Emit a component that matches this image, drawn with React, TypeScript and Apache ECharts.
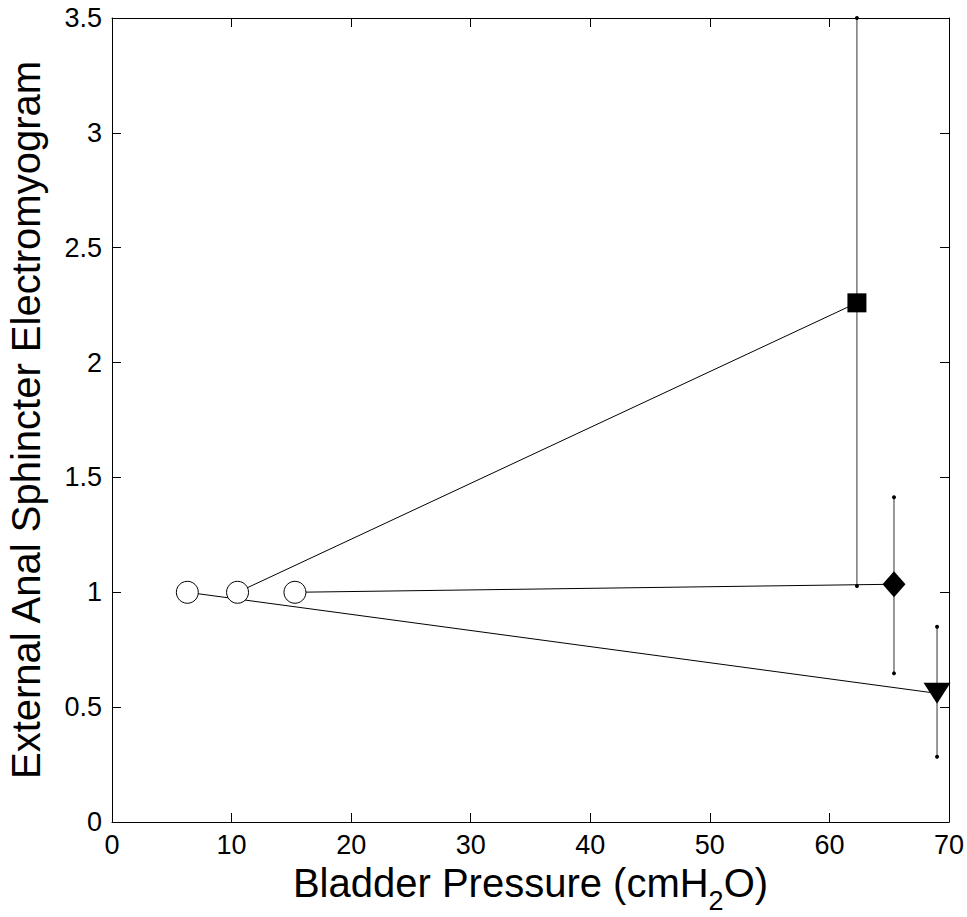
import React, { useEffect, useRef } from "react";
import * as echarts from "echarts";

// Groups: 0 = square, 1 = diamond, 2 = inverted triangle
const startX = [10.5, 15.3, 6.3];
const startY = [1, 1, 1];
const endX = [62.3, 65.4, 69.0];
const endY = [2.26, 1.035, 0.56];
const errLow = [1.027, 0.647, 0.284];
const errHigh = [3.5, 1.414, 0.85];
const endSymbols = ["rect", "diamond", "triangle"];
const endSizes: any[] = [19, [23, 26], [27, 21]];
const endRotate = [0, 0, 180];

const xTitle = "{m|Bladder Pressure (cmH}{sub|2}{m|O)}";
const yTitle = "External Anal Sphincter Electromyogram";

export default function App() {
  const ref = useRef<HTMLDivElement>(null);
  useEffect(() => {
    if (!ref.current) return;
    const chart = echarts.init(ref.current, null, { renderer: "svg" });
    const font = "Liberation Sans, Arial, sans-serif";
    const axisCommon = {
      axisLine: { show: true, onZero: false, lineStyle: { color: "#000", width: 1 } },
      axisTick: { show: true, inside: true, length: 9, lineStyle: { color: "#000", width: 1 } },
      splitLine: { show: false },
    };
    const series: any[] = [];
    for (let i = 0; i < 3; i++) {
      series.push({
        type: "line",
        data: [
          [startX[i], startY[i]],
          [endX[i], endY[i]],
        ],
        symbol: "none",
        lineStyle: { color: "#000", width: 1 },
        z: 2,
      });
    }
    for (let i = 0; i < 3; i++) {
      series.push({
        type: "line",
        data: [
          [endX[i], errLow[i]],
          [endX[i], errHigh[i]],
        ],
        symbol: "circle",
        symbolSize: 4,
        itemStyle: { color: "#000", opacity: 1 },
        lineStyle: { color: "#333", width: 1 },
        z: 3,
      });
    }
    series.push({
      type: "scatter",
      data: startX.map((x, i) => [x, startY[i]]),
      symbol: "circle",
      symbolSize: 22,
      itemStyle: { color: "#fff", borderColor: "#000", borderWidth: 1, opacity: 1 },
      z: 4,
    });
    for (let i = 0; i < 3; i++) {
      series.push({
        type: "scatter",
        data: [[endX[i], endY[i]]],
        symbol: endSymbols[i],
        symbolSize: endSizes[i],
        symbolRotate: endRotate[i],
        itemStyle: { color: "#000", opacity: 1 },
        z: 5,
      });
    }
    chart.setOption({
      animation: false,
      backgroundColor: "#fff",
      grid: { left: 112, right: 18, top: 18, bottom: 95, containLabel: false, outerBoundsMode: "none" },
      xAxis: [
        {
          type: "value",
          min: 0,
          max: 70,
          interval: 10,
          position: "bottom",
          ...axisCommon,
          axisLabel: { fontSize: 27, color: "#000", fontFamily: font, margin: 9 },
          name: xTitle,
          nameLocation: "middle",
          nameGap: 40,
          nameTextStyle: {
            fontSize: 40,
            color: "#000",
            fontFamily: font,
            verticalAlign: "top",
            rich: {
              m: { fontSize: 40, lineHeight: 40, fontFamily: font, color: "#000", verticalAlign: "top" },
              sub: { fontSize: 27, lineHeight: 27, fontFamily: font, color: "#000", verticalAlign: "top", padding: [25, 0, 0, 0] },
            },
          },
        },
        {
          type: "value",
          min: 0,
          max: 70,
          interval: 10,
          position: "top",
          ...axisCommon,
          axisLabel: { show: false },
        },
      ],
      yAxis: [
        {
          type: "value",
          min: 0,
          max: 3.5,
          interval: 0.5,
          position: "left",
          ...axisCommon,
          axisLabel: { fontSize: 27, color: "#000", fontFamily: font, margin: 10 },
          name: yTitle,
          nameLocation: "middle",
          nameGap: 66,
          nameTextStyle: { fontSize: 40, color: "#000", fontFamily: font },
        },
        {
          type: "value",
          min: 0,
          max: 3.5,
          interval: 0.5,
          position: "right",
          ...axisCommon,
          axisLabel: { show: false },
        },
      ],
      series,
    });
    return () => chart.dispose();
  }, []);
  return <div ref={ref} style={{ width: 967, height: 917, position: "absolute", left: 0, top: 0 }} />;
}
